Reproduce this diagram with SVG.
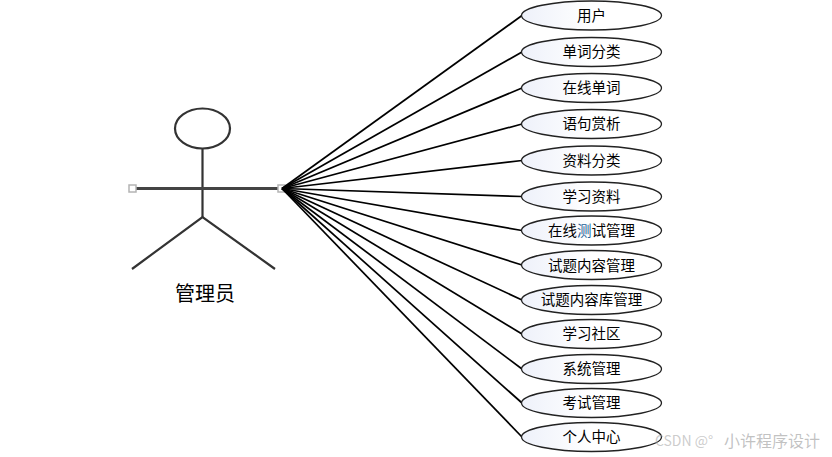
<svg xmlns="http://www.w3.org/2000/svg" width="832" height="457" viewBox="0 0 832 457">
<defs>
<linearGradient id="g" x1="0" y1="0" x2="1" y2="0"><stop offset="0" stop-color="#eef1fa"/><stop offset="0.5" stop-color="#ffffff"/></linearGradient>
</defs>
<style>
text{font-family:"Noto Sans CJK SC","Liberation Sans",sans-serif;text-anchor:middle;fill:#000}
.l{font-size:14.500px}
.u ellipse{fill:url(#g);stroke:#222;stroke-width:1.3}
#connectors line{stroke:#000;stroke-width:1.7}
.a{fill:none;stroke:#333;stroke-width:2.2}
.b{fill:none;stroke:#444;stroke-width:2.800}
.h{fill:#fff;stroke:#b4b4b4;stroke-width:1.5}
</style>
<rect width="832" height="457" fill="#fff"/>
<g id="actor">
<ellipse class="a" cx="202.500" cy="128.500" rx="27.500" ry="20"/>
<line class="a" x1="202.500" y1="149" x2="202.500" y2="217"/>
<line class="b" x1="133" y1="188.500" x2="281" y2="188.500"/>
<polyline class="a" points="132,269 202.500,217 275,269"/>
<rect class="h" x="129" y="185" width="7" height="7"/>
<rect class="h" x="278" y="185" width="7" height="7"/>
<text x="205" y="301" font-size="20">管理员</text>
</g>
<g id="connectors">
<line x1="282" y1="188.500" x2="522" y2="15.500"/>
<line x1="282" y1="188.500" x2="522" y2="52"/>
<line x1="282" y1="188.500" x2="522" y2="88"/>
<line x1="282" y1="188.500" x2="522" y2="124"/>
<line x1="282" y1="188.500" x2="522" y2="160.500"/>
<line x1="282" y1="188.500" x2="522" y2="196.500"/>
<line x1="282" y1="188.500" x2="522" y2="230.500"/>
<line x1="282" y1="188.500" x2="522" y2="265"/>
<line x1="282" y1="188.500" x2="522" y2="300"/>
<line x1="282" y1="188.500" x2="522" y2="334"/>
<line x1="282" y1="188.500" x2="522" y2="369"/>
<line x1="282" y1="188.500" x2="522" y2="403"/>
<line x1="282" y1="188.500" x2="522" y2="437"/>
</g>
<g id="u1" class="u"><ellipse cx="591.500" cy="15.500" rx="70" ry="14.500"/><text class="l" x="591.500" y="20.500">用户</text></g>
<g id="u2" class="u"><ellipse cx="591.500" cy="52" rx="70" ry="14.500"/><text class="l" x="591.500" y="57">单词分类</text></g>
<g id="u3" class="u"><ellipse cx="591.500" cy="88" rx="70" ry="14.500"/><text class="l" x="591.500" y="92.500">在线单词</text></g>
<g id="u4" class="u"><ellipse cx="591.500" cy="124" rx="70" ry="14.500"/><text class="l" x="591.500" y="129">语句赏析</text></g>
<g id="u5" class="u"><ellipse cx="591.500" cy="160.500" rx="70" ry="14.500"/><text class="l" x="591.500" y="165.500">资料分类</text></g>
<g id="u6" class="u"><ellipse cx="591.500" cy="196.500" rx="70" ry="14.500"/><text class="l" x="591.500" y="201.500">学习资料</text></g>
<g id="u7" class="u"><ellipse cx="591.500" cy="230.500" rx="70" ry="14.500"/><text class="l" x="591.500" y="235.500">在线<tspan fill="#1c5f98">测</tspan>试管理</text></g>
<g id="u8" class="u"><ellipse cx="591.500" cy="265" rx="70" ry="14.500"/><text class="l" x="591.500" y="270.500">试题内容管理</text></g>
<g id="u9" class="u"><ellipse cx="591.500" cy="300" rx="70" ry="14.500"/><text class="l" x="591.500" y="304.500">试题内容库管理</text></g>
<g id="u10" class="u"><ellipse cx="591.500" cy="334" rx="70" ry="14.500"/><text class="l" x="591.500" y="339">学习社区</text></g>
<g id="u11" class="u"><ellipse cx="591.500" cy="369" rx="70" ry="14.500"/><text class="l" x="591.500" y="374">系统管理</text></g>
<g id="u12" class="u"><ellipse cx="591.500" cy="403" rx="70" ry="14.500"/><text class="l" x="591.500" y="408">考试管理</text></g>
<g id="u13" class="u"><ellipse cx="591.500" cy="437" rx="70" ry="14.500"/><text class="l" x="591.500" y="442">个人中心</text></g>
<g id="watermark" fill-opacity="0.6"><text x="684" y="446" font-size="14" style="fill:#aaa">CSDN @°</text><text x="772" y="447" font-size="16" style="fill:#999">小许程序设计</text></g>
</svg>
